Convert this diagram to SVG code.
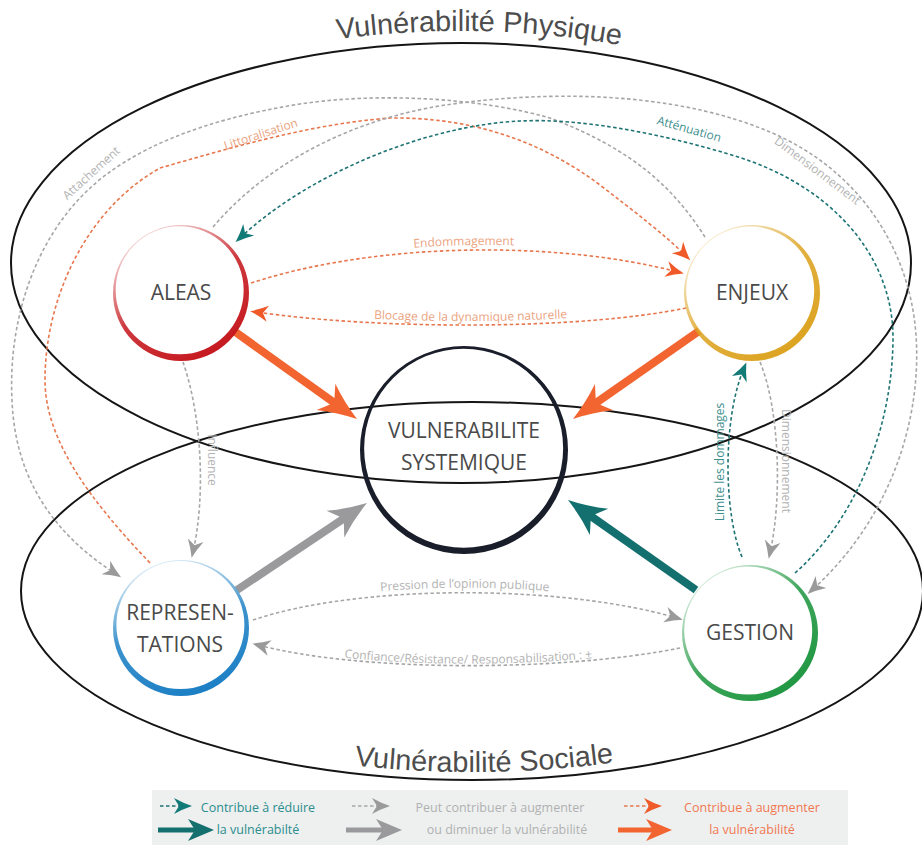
<svg xmlns="http://www.w3.org/2000/svg" width="922" height="852" viewBox="0 0 922 852">
<style>
.ell{fill:none;stroke:#151515;stroke-width:2}
.title{font-family:"Liberation Sans",Arial,sans-serif;font-size:28.8px;fill:#4d4d4d}
.node{font-family:"Open Sans","Noto Sans",sans-serif;font-size:21px;fill:#4a4a4a;text-anchor:middle}
.d{fill:none;stroke-width:1.6;stroke-dasharray:3.5 2.5}
.dor{stroke:#e8764c}
.dgr{stroke:#a6a6a6}
.dte{stroke:#1d7373}
.thick{fill:none;stroke-width:8}
.lab{font-family:"Open Sans","Noto Sans",sans-serif;font-size:12px}
.lor{fill:#eba37f}
.lgr{fill:#b3b3b3}
.lte{fill:#3f8f8f}
.leg{font-family:"Open Sans","Noto Sans",sans-serif;font-size:12.5px;text-anchor:middle}
</style>
<defs>
<marker id="mo" viewBox="-14 -10 22 20" markerWidth="22" markerHeight="20" refX="0" refY="0" orient="auto" markerUnits="userSpaceOnUse"><path d="M6,0 Q-3,-3 -12,-8 L-7,0 L-12,8 Q-3,3 6,0 Z" fill="#f05a28"/></marker>
<marker id="mg" viewBox="-14 -10 22 20" markerWidth="22" markerHeight="20" refX="0" refY="0" orient="auto" markerUnits="userSpaceOnUse"><path d="M6,0 Q-3,-3 -12,-8 L-7,0 L-12,8 Q-3,3 6,0 Z" fill="#9a9a9a"/></marker>
<marker id="mt" viewBox="-14 -10 22 20" markerWidth="22" markerHeight="20" refX="0" refY="0" orient="auto" markerUnits="userSpaceOnUse"><path d="M6,0 Q-3,-3 -12,-8 L-7,0 L-12,8 Q-3,3 6,0 Z" fill="#127a77"/></marker>
<marker id="Mo" viewBox="-30 -20 45 40" markerWidth="45" markerHeight="40" refX="0" refY="0" orient="auto" markerUnits="userSpaceOnUse"><path d="M12,0 Q-8,-6 -26,-16 L-16,0 L-26,16 Q-8,6 12,0 Z" fill="#f26430"/></marker>
<marker id="Mg" viewBox="-30 -20 45 40" markerWidth="45" markerHeight="40" refX="0" refY="0" orient="auto" markerUnits="userSpaceOnUse"><path d="M12,0 Q-8,-6 -26,-16 L-16,0 L-26,16 Q-8,6 12,0 Z" fill="#9a9a9c"/></marker>
<marker id="Mt" viewBox="-30 -20 45 40" markerWidth="45" markerHeight="40" refX="0" refY="0" orient="auto" markerUnits="userSpaceOnUse"><path d="M12,0 Q-8,-6 -26,-16 L-16,0 L-26,16 Q-8,6 12,0 Z" fill="#14706e"/></marker>
<linearGradient id="gA" x1="0.15" y1="0.05" x2="0.75" y2="1"><stop offset="0" stop-color="#c4161c" stop-opacity="0.08"/><stop offset="0.5" stop-color="#c4161c" stop-opacity="0.85"/><stop offset="1" stop-color="#c4161c"/></linearGradient>
<linearGradient id="gE" x1="0.1" y1="0.05" x2="0.85" y2="0.95"><stop offset="0" stop-color="#dca21e" stop-opacity="0.08"/><stop offset="0.5" stop-color="#dca21e" stop-opacity="0.85"/><stop offset="1" stop-color="#dca21e"/></linearGradient>
<linearGradient id="gR" x1="0.3" y1="0" x2="0.6" y2="1"><stop offset="0" stop-color="#1b7fc4" stop-opacity="0.1"/><stop offset="0.5" stop-color="#1b7fc4" stop-opacity="0.85"/><stop offset="1" stop-color="#1b7fc4"/></linearGradient>
<linearGradient id="gG" x1="0.1" y1="0.05" x2="0.85" y2="0.95"><stop offset="0" stop-color="#1e9640" stop-opacity="0.08"/><stop offset="0.5" stop-color="#1e9640" stop-opacity="0.85"/><stop offset="1" stop-color="#1e9640"/></linearGradient>
<path id="tpPhys" d="M300,45.5 A462,232 0 0 1 660,53.6"/>
<path id="tpSoc" d="M310,759.4 A442,181 0 0 0 658,755.2"/>
<path id="lpEnd" d="M251,278 C380,236 560,236 678,267"/>
<path id="lpBlo" d="M255,308 C380,326 580,326 686,304"/>
<path id="lpPre" d="M253,615 C360,579 560,579 677,613"/>
<path id="lpCon" d="M257,643 C360,670 560,670 680,646"/>
</defs>

<g id="ellipses">
<ellipse class="ell" cx="461" cy="263" rx="450" ry="220"/>
<ellipse class="ell" cx="472" cy="591" rx="451" ry="189"/>
<text class="title"><textPath href="#tpPhys" startOffset="38">Vulnérabilité Physique</textPath></text>
<text class="title"><textPath href="#tpSoc" startOffset="50%" text-anchor="middle">Vulnérabilité Sociale</textPath></text>
</g>

<g id="connectors">
<path class="d dor" d="M150,563 C90,500 45,440 45,380 C45,300 85,210 160,168 C230,148 310,124 390,118 C470,117 540,140 600,185 C635,212 665,235 686,256" marker-end="url(#mo)"/>
<text class="lab lor" x="262" y="138" text-anchor="middle" transform="rotate(-18 262 138)">Littoralisation</text>
<path class="d dgr" d="M705,237 C675,190 635,150 550,118 C480,98 380,92 300,104 C200,120 130,150 88,190 C35,240 8,320 12,400 C15,480 55,535 116,574" marker-end="url(#mg)"/>
<text class="lab lgr" x="94" y="176" text-anchor="middle" transform="rotate(-42 94 176)">Attachement</text>
<path class="d dgr" d="M213,227 C270,160 360,115 460,103 C580,88 690,98 770,132 C860,170 910,250 916,335 C922,420 890,520 812,590" marker-end="url(#mg)"/>
<text class="lab lgr" x="815" y="174" text-anchor="middle" transform="rotate(37 815 174)">Dimensionnement</text>
<path class="d dte" d="M795,573 C855,520 892,430 893,340 C894,255 830,185 735,156 C660,133 580,118 520,121 C430,125 310,172 240,238" marker-end="url(#mt)"/>
<text class="lab lte" x="688" y="133" text-anchor="middle" transform="rotate(16 688 133)">Atténuation</text>
<path class="d dor" d="M251,283 C380,241 560,241 678,272" marker-end="url(#mo)"/>
<text class="lab lor"><textPath href="#lpEnd" startOffset="50%" text-anchor="middle">Endommagement</textPath></text>
<path class="d dor" d="M686,308 C580,330 380,330 256,312" marker-end="url(#mo)"/>
<text class="lab lor"><textPath href="#lpBlo" startOffset="50%" text-anchor="middle">Blocage de la dynamique naturelle</textPath></text>
<path class="d dgr" d="M183,362 C203,420 205,500 193,552" marker-end="url(#mg)"/>
<text class="lab lgr" x="208" y="460" text-anchor="middle" transform="rotate(90 208 460)">Influence</text>
<path class="d dte" d="M742,557 C724,515 722,420 744,368" marker-end="url(#mt)"/>
<text class="lab lte" x="724" y="462" text-anchor="middle" transform="rotate(-90 724 462)">Limite les dommages</text>
<path class="d dgr" d="M760,362 C780,410 782,500 770,553" marker-end="url(#mg)"/>
<text class="lab lgr" x="782" y="461" text-anchor="middle" transform="rotate(90 782 461)">Dimensionnement</text>
<path class="d dgr" d="M253,620 C360,584 560,584 677,618" marker-end="url(#mg)"/>
<text class="lab lgr"><textPath href="#lpPre" startOffset="50%" text-anchor="middle">Pression de l’opinion publique</textPath></text>
<path class="d dgr" d="M680,648 C560,672 360,672 258,645" marker-end="url(#mg)"/>
<text class="lab lgr"><textPath href="#lpCon" startOffset="50%" text-anchor="middle">Confiance/Résistance/ Responsabilisation : ±</textPath></text>
<line class="thick" x1="234" y1="331" x2="347.2" y2="412" stroke="#f26430" marker-end="url(#Mo)"/>
<line class="thick" x1="699" y1="331" x2="582.8" y2="412.1" stroke="#f26430" marker-end="url(#Mo)"/>
<line class="thick" x1="237" y1="590" x2="357" y2="509.7" stroke="#9a9a9c" marker-end="url(#Mg)"/>
<line class="thick" x1="696" y1="590" x2="577.8" y2="506.9" stroke="#14706e" marker-end="url(#Mt)"/>
</g>

<g id="aleas">
<path fill="url(#gA)" fill-rule="evenodd" d="M113,293 a68,68 0 1,0 136,0 a68,68 0 1,0 -136,0 Z M115.66,290.32 a64,64 0 1,0 128,0 a64,64 0 1,0 -128,0 Z"/>
<text class="node" x="181" y="300">ALEAS</text>
</g>
<g id="enjeux">
<path fill="url(#gE)" fill-rule="evenodd" d="M684,293 a68,68 0 1,0 136,0 a68,68 0 1,0 -136,0 Z M686.2,290.6 a64,64 0 1,0 128,0 a64,64 0 1,0 -128,0 Z"/>
<text class="node" x="752" y="300">ENJEUX</text>
</g>
<g id="representations">
<path fill="url(#gR)" fill-rule="evenodd" d="M113,628 a68,68 0 1,0 136,0 a68,68 0 1,0 -136,0 Z M116.4,625.06 a64,64 0 1,0 128,0 a64,64 0 1,0 -128,0 Z"/>
<text class="node" x="180" y="620">REPRESEN-</text>
<text class="node" x="180" y="652">TATIONS</text>
</g>
<g id="gestion">
<path fill="url(#gG)" fill-rule="evenodd" d="M682,633 a68,68 0 1,0 136,0 a68,68 0 1,0 -136,0 Z M684.2,630.6 a64,64 0 1,0 128,0 a64,64 0 1,0 -128,0 Z"/>
<text class="node" x="750" y="640">GESTION</text>
</g>
<g id="vulnerabilite-systemique">
<path fill="#1a1e2b" fill-rule="evenodd" d="M360,450 a104,104 0 1,0 208,0 a104,104 0 1,0 -208,0 Z M364.14,448.24 a99.5,99.5 0 1,0 199,0 a99.5,99.5 0 1,0 -199,0 Z"/>
<text class="node" x="464" y="438">VULNERABILITE</text>
<text class="node" x="464" y="470">SYSTEMIQUE</text>
</g>

<g id="legend">
<rect x="152" y="790" width="696" height="55" fill="#eef0f0"/>
<path class="d dte" d="M160,806 H186" marker-end="url(#mt)"/>
<path d="M158,830 H196" stroke="#14706e" stroke-width="5"/>
<path d="M214,830 L188,819 L195,830 L188,841 Z" fill="#14706e"/>
<text class="leg" fill="#2a8d8d" x="258" y="812">Contribue à réduire</text>
<text class="leg" fill="#2a8d8d" x="258" y="834">la vulnérabilté</text>
<path class="d dgr" d="M352,806 H384" marker-end="url(#mg)"/>
<path d="M346,830 H384" stroke="#9a9a9c" stroke-width="5"/>
<path d="M402,830 L376,819 L383,830 L376,841 Z" fill="#9a9a9c"/>
<text class="leg" fill="#b0b0b0" x="500" y="812">Peut contribuer à augmenter</text>
<text class="leg" fill="#b0b0b0" x="507" y="834">ou diminuer la vulnérabilité</text>
<path class="d dor" d="M624,806 H656" marker-end="url(#mo)"/>
<path d="M618,830 H654" stroke="#f26430" stroke-width="5"/>
<path d="M672,830 L646,819 L653,830 L646,841 Z" fill="#f26430"/>
<text class="leg" fill="#f07850" x="752" y="812">Contribue à augmenter</text>
<text class="leg" fill="#f07850" x="752" y="834">la vulnérabilité</text>
</g>
</svg>
